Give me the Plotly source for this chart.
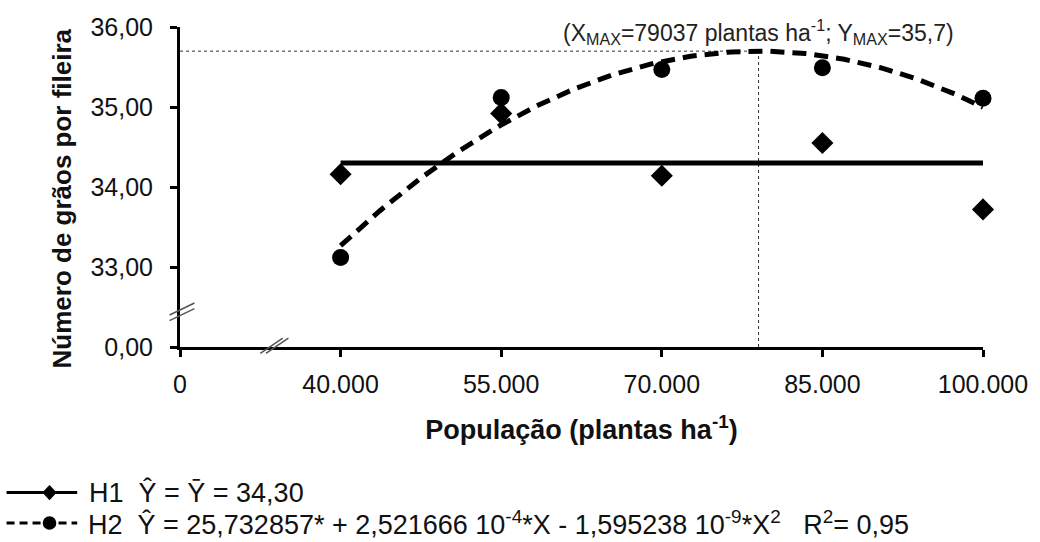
import numpy as np
import plotly.graph_objects as go

# Plant populations (plants per hectare)
populacao = [40000, 55000, 70000, 85000, 100000]

# Grains per row for each hybrid
h1_graos = [34.16, 34.92, 34.14, 34.55, 33.72]
h2_graos = [33.12, 35.12, 35.47, 35.49, 35.11]

# H1: mean model
h1_media = 34.30

# H2: quadratic regression coefficients
b0, b1, b2 = 25.732857, 2.521666e-4, -1.595238e-9
r2 = 0.95

# Broken axes: the first slot of each axis stands for zero
x_zero_pos = 25000
y_zero_pos = 32.0
x_tickvals = [25000, 40000, 55000, 70000, 85000, 100000]
x_ticktext = ["0", "40.000", "55.000", "70.000", "85.000", "100.000"]
y_tickvals = [32, 33, 34, 35, 36]
y_ticktext = ["0,00", "33,00", "34,00", "35,00", "36,00"]

# Vertex of the fitted parabola
x_max = -b1 / (2 * b2)
y_max = b0 + b1 * x_max + b2 * x_max ** 2

x_fit = np.linspace(min(populacao), max(populacao), 200)
y_fit = b0 + b1 * x_fit + b2 * x_fit ** 2


def br(v, nd):
    """Format a number with a decimal comma."""
    return f"{v:.{nd}f}".replace(".", ",")


FONT = "Liberation Sans, Arial, sans-serif"

fig = go.Figure()

# Reference lines to the vertex
fig.add_trace(go.Scatter(
    x=[x_zero_pos, x_max], y=[y_max, y_max], mode="lines",
    line=dict(color="#333", width=1, dash="dot"), hoverinfo="skip", showlegend=False))
fig.add_trace(go.Scatter(
    x=[x_max, x_max], y=[y_zero_pos, y_max], mode="lines",
    line=dict(color="#333", width=1, dash="dot"), hoverinfo="skip", showlegend=False))

# H1 mean line and observed values
fig.add_trace(go.Scatter(
    x=[min(populacao), max(populacao)], y=[h1_media, h1_media], mode="lines",
    line=dict(color="black", width=5), showlegend=False, cliponaxis=False))
fig.add_trace(go.Scatter(
    x=populacao, y=h1_graos, mode="markers", name="H1",
    marker=dict(symbol="diamond", size=17, color="black"), showlegend=False, cliponaxis=False))

# H2 quadratic fit and observed values
fig.add_trace(go.Scatter(
    x=x_fit, y=y_fit, mode="lines",
    line=dict(color="black", width=5, dash="14px,8px"), showlegend=False, cliponaxis=False))
fig.add_trace(go.Scatter(
    x=populacao, y=h2_graos, mode="markers", name="H2",
    marker=dict(symbol="circle", size=17, color="black"), showlegend=False, cliponaxis=False))

# Axis break marks
shapes = []
for dy in (0.0, 0.07):
    shapes.append(dict(type="line", xref="paper", yref="y",
                       x0=-0.013, x1=0.018, y0=32.33 + dy, y1=32.48 + dy,
                       line=dict(color="#555", width=1.5)))
for dx in (0.0, 0.007):
    shapes.append(dict(type="line", xref="paper", yref="paper",
                       x0=0.100 + dx, x1=0.128 + dx, y0=-0.02, y1=0.028,
                       line=dict(color="#555", width=1.5)))

# Custom legend block below the chart
L_H1_Y = -0.455
L_H2_Y = -0.550
LX0, LX1, LXM = -0.216, -0.128, -0.1625
shapes.append(dict(type="line", xref="paper", yref="paper", x0=LX0, x1=LX1,
                   y0=L_H1_Y, y1=L_H1_Y, line=dict(color="black", width=3)))
shapes.append(dict(type="path", xref="paper", yref="paper",
                   path=(f"M {LXM-0.009},{L_H1_Y} L {LXM},{L_H1_Y+0.024} "
                         f"L {LXM+0.009},{L_H1_Y} L {LXM},{L_H1_Y-0.024} Z"),
                   fillcolor="black", line=dict(color="black", width=0)))
shapes.append(dict(type="line", xref="paper", yref="paper", x0=LX0, x1=LX1,
                   y0=L_H2_Y, y1=L_H2_Y, line=dict(color="black", width=3, dash="8px,5px")))
shapes.append(dict(type="circle", xref="paper", yref="paper",
                   x0=LXM - 0.0085, x1=LXM + 0.0085, y0=L_H2_Y - 0.021, y1=L_H2_Y + 0.021,
                   fillcolor="black", line=dict(color="black", width=0)))

sp = "\u00a0"
annotations = [
    dict(x=x_max, y=y_max, xref="x", yref="y", yanchor="bottom", xanchor="center", yshift=1,
         showarrow=False,
         text=(f"(X<sub>MAX</sub>={x_max:.0f} plantas ha<sup>-1</sup>; "
               f"Y<sub>MAX</sub>={br(y_max, 1)})"),
         font=dict(family=FONT, size=23, color="#222")),
    dict(x=-0.1464, y=0.4656, xref="paper", yref="paper", xanchor="center", yanchor="middle",
         showarrow=False, textangle=-90,
         text="<b>Número de grãos por fileira</b>",
         font=dict(family=FONT, size=26, color="#111")),
    dict(x=-0.1154, y=L_H1_Y, xref="paper", yref="paper", xanchor="left", yanchor="middle",
         showarrow=False,
         text=f"H1{sp}{sp}Y\u0302 = Y\u0304 = {br(h1_media, 2)}",
         font=dict(family=FONT, size=27, color="#111")),
    dict(x=-0.1154, y=L_H2_Y, xref="paper", yref="paper", xanchor="left", yanchor="middle",
         showarrow=False, borderpad=0,
         text=(f"H2{sp}{sp}Y\u0302 = {br(b0, 6)}* + {br(b1 * 1e4, 6)} 10<sup>-4</sup>*X - "
               f"{br(-b2 * 1e9, 6)} 10<sup>-9</sup>*X<sup>2</sup>{sp}{sp}{sp}"
               f"R<sup>2</sup>= {br(r2, 2)}"),
         font=dict(family=FONT, size=27, color="#111")),
]

fig.update_layout(
    width=1040, height=542,
    margin=dict(l=180, r=54, t=27, b=195),
    paper_bgcolor="white", plot_bgcolor="white",
    font=dict(family=FONT, color="#111"),
    shapes=shapes, annotations=annotations,
    xaxis=dict(
        range=[x_zero_pos, 100000], tickvals=x_tickvals, ticktext=x_ticktext,
        showline=True, linecolor="black", linewidth=3, mirror=False,
        ticks="outside", ticklen=7, tickwidth=3, tickcolor="black",
        showgrid=False, zeroline=False, ticklabelstandoff=6,
        tickfont=dict(family=FONT, size=25, color="#111"),
        title=dict(text="<b>População (plantas ha<sup>-1</sup>)</b>", standoff=24,
                   font=dict(family=FONT, size=27, color="#111")),
    ),
    yaxis=dict(
        range=[y_zero_pos, 36], tickvals=y_tickvals, ticktext=y_ticktext,
        showline=True, linecolor="black", linewidth=3, mirror=False,
        ticks="outside", ticklen=7, tickwidth=3, tickcolor="black",
        showgrid=False, zeroline=False, ticklabelstandoff=12,
        tickfont=dict(family=FONT, size=25, color="#111"),
    ),
)

fig.write_html("out.html")
